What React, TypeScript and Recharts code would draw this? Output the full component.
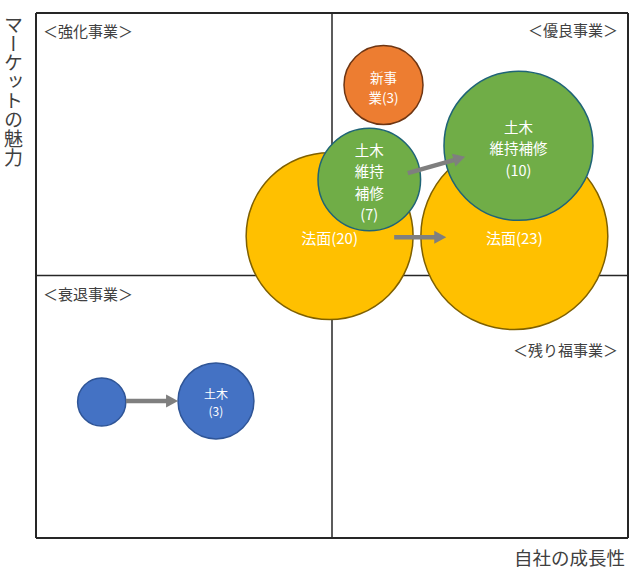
import React from 'react';
import { ScatterChart, Scatter, XAxis, YAxis, ZAxis, ReferenceLine, ReferenceArea } from 'recharts';

// ---- data (x: 自社の成長性 0-10, y: マーケットの魅力 0-10, z: bubble size) ----
const slopeBubbles = [
  { lines: ['法面(20)'], x: 4.96, y: 5.75, z: 69.7 },
  { lines: ['法面(23)'], x: 8.08, y: 5.75, z: 87.4 },
];
const maintBubbles = [
  { lines: ['土木', '維持', '補修', '(7)'], x: 5.63, y: 6.83, z: 26.3 },
  { lines: ['土木', '維持補修', '(10)'], x: 8.15, y: 7.47, z: 55.5 },
];
const newBizBubbles = [
  { lines: ['新事', '業(3)'], x: 5.87, y: 8.63, z: 15.6 },
];
const civilBubbles = [
  { lines: [], x: 1.11, y: 2.59, z: 5.8 },
  { lines: ['土木', '(3)'], x: 3.04, y: 2.61, z: 14.4 },
];
const arrowCivil = [
  { x: 1.52, y: 2.61 },
  { x: 2.40, y: 2.61 },
];
const arrowSlope = [
  { x: 6.05, y: 5.73 },
  { x: 6.93, y: 5.73 },
];
const arrowMaint = [
  { x: 6.28, y: 6.95 },
  { x: 7.25, y: 7.26 },
];
const quadrantLabels = ['＜強化事業＞', '＜優良事業＞', '＜衰退事業＞', '＜残り福事業＞'];
const xTitle = '自社の成長性';
const yTitle = 'マーケットの魅力';

const FONT = '"Noto Sans CJK JP", "Noto Sans", sans-serif';

const makeBubble = (fill: string, stroke: string, fontSize: number, gap: number, dy: number) => (props: any) => {
  const { cx, cy, width, payload } = props;
  const r = width / 2;
  const lines: string[] = payload.lines || [];
  const n = lines.length;
  return (
    <g>
      <circle cx={cx} cy={cy} r={r} fill={fill} stroke={stroke} strokeWidth={1.5} />
      {n > 0 && (
        <text textAnchor="middle" fill="#ffffff" fontSize={fontSize} fontFamily={FONT}>
          {lines.map((t, i) => (
            <tspan key={i} x={cx} y={cy + dy + (i - (n - 1) / 2) * gap} dominantBaseline="central">
              {t}
            </tspan>
          ))}
        </text>
      )}
    </g>
  );
};

const arrowLine = (props: any) => {
  const pts = props.points || [];
  if (pts.length < 2) return <g />;
  const a = pts[0];
  const b = pts[1];
  const dx = b.x - a.x;
  const dy = b.y - a.y;
  const len = Math.sqrt(dx * dx + dy * dy) || 1;
  const ux = dx / len;
  const uy = dy / len;
  const head = 12;
  const hw = 6.5;
  const bx = b.x - ux * head;
  const by = b.y - uy * head;
  const px = -uy;
  const py = ux;
  return (
    <g>
      <line x1={a.x} y1={a.y} x2={bx + ux * 1} y2={by + uy * 1} stroke="#7f7f7f" strokeWidth={4.5} />
      <polygon
        points={`${b.x},${b.y} ${bx + px * hw},${by + py * hw} ${bx - px * hw},${by - py * hw}`}
        fill="#7f7f7f"
      />
    </g>
  );
};

const emptyShape = () => <g />;

const QuadLabel = (text: string, align: 'left' | 'right', dy: number) => (props: any) => {
  const vb = props.viewBox || {};
  const x = align === 'left' ? vb.x + 7 : vb.x + vb.width - 10;
  return (
    <text
      x={x}
      y={vb.y + dy}
      textAnchor={align === 'left' ? 'start' : 'end'}
      dominantBaseline="central"
      fill="#404040"
      fontSize={15}
      fontFamily={FONT}
    >
      {text}
    </text>
  );
};

export default function App() {
  return (
    <div style={{ position: 'absolute', left: 0, top: 0, width: 636, height: 574, background: '#fff' }}>
      <ScatterChart width={636} height={574} margin={{ top: 13, right: 8, bottom: 36, left: 36 }}>
        <XAxis type="number" dataKey="x" domain={[0, 10]} hide />
        <YAxis type="number" dataKey="y" domain={[0, 10]} hide />
        <ZAxis type="number" dataKey="z" domain={[0, 100]} range={[0, 10000 * Math.PI]} />
        <ReferenceArea x1={0} x2={5} y1={5} y2={10} fill="none" stroke="none" label={{ content: QuadLabel(quadrantLabels[0], 'left', 17) } as any} />
        <ReferenceArea x1={5} x2={10} y1={5} y2={10} fill="none" stroke="none" label={{ content: QuadLabel(quadrantLabels[1], 'right', 16) } as any} />
        <ReferenceArea x1={0} x2={5} y1={0} y2={5} fill="none" stroke="none" label={{ content: QuadLabel(quadrantLabels[2], 'left', 18) } as any} />
        <ReferenceArea x1={5} x2={10} y1={0} y2={5} fill="none" stroke="none" label={{ content: QuadLabel(quadrantLabels[3], 'right', 74) } as any} />
        <ReferenceLine x={5} stroke="#262626" strokeWidth={1.5} />
        <ReferenceLine y={5} stroke="#262626" strokeWidth={1.5} />
        <ReferenceLine x={0} stroke="#262626" strokeWidth={2} />
        <ReferenceLine x={10} stroke="#262626" strokeWidth={2} />
        <ReferenceLine y={0} stroke="#262626" strokeWidth={2} />
        <ReferenceLine y={10} stroke="#262626" strokeWidth={2} />
        <Scatter data={slopeBubbles} isAnimationActive={false} shape={makeBubble('#FFC000', '#7f6000', 15, 18, 1)} />
        <Scatter data={maintBubbles} isAnimationActive={false} shape={makeBubble('#70AD47', '#1f6476', 14.5, 21.2, 2)} />
        <Scatter data={newBizBubbles} isAnimationActive={false} shape={makeBubble('#ED7D31', '#6e3512', 13.5, 19.8, 2)} />
        <Scatter data={civilBubbles} isAnimationActive={false} shape={makeBubble('#4472C4', '#2F5597', 12, 17.6, 1)} />
        <Scatter data={arrowCivil} isAnimationActive={false} shape={emptyShape} line={arrowLine} />
        <Scatter data={arrowSlope} isAnimationActive={false} shape={emptyShape} line={arrowLine} />
        <Scatter data={arrowMaint} isAnimationActive={false} shape={emptyShape} line={arrowLine} />
      </ScatterChart>
      <div
        style={{
          position: 'absolute',
          left: 3,
          top: 15,
          writingMode: 'vertical-rl',
          fontSize: 19,
          lineHeight: '20px',
          fontFamily: FONT,
          color: '#404040',
          whiteSpace: 'nowrap',
        }}
      >
        {yTitle}
      </div>
      <div
        style={{
          position: 'absolute',
          right: 11,
          top: 544,
          fontSize: 18.5,
          lineHeight: '26px',
          fontFamily: FONT,
          color: '#404040',
          whiteSpace: 'nowrap',
        }}
      >
        {xTitle}
      </div>
    </div>
  );
}
